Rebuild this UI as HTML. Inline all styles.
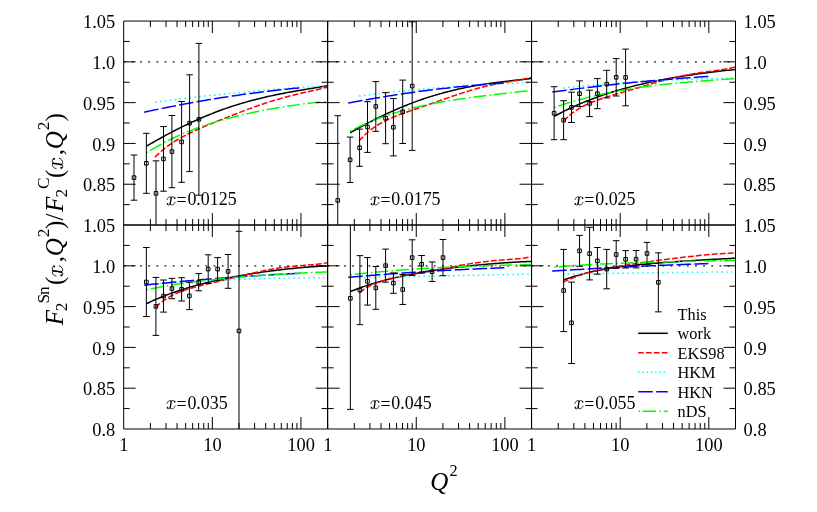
<!DOCTYPE html>
<html><head><meta charset="utf-8"><title>F2 ratio</title>
<style>html,body{margin:0;padding:0;background:#fff}body{width:817px;height:512px;overflow:hidden}svg{display:block;will-change:transform}text{font-family:"Liberation Serif",serif;fill:#000}.i{font-style:italic}</style></head><body>
<svg width="817" height="512" viewBox="0 0 817 512">
<rect width="817" height="512" fill="#fff"/>
<defs>
<g id="mx" fill="none" stroke="#000" stroke-linecap="round"><path d="M0.6,-5.6 C1.0,-7.6 2.4,-8.9 4.3,-8.3" stroke-width="0.75"/><path d="M4.8,-8.2 C4.6,-5.5 4.1,-3 3.7,-1.0" stroke-width="1.3"/><path d="M3.6,-1.0 C3.0,0.1 1.8,0.2 1.1,-0.7" stroke-width="0.75"/><circle cx="1.15" cy="-1.35" r="0.85" fill="#000" stroke="none"/><path d="M4.9,-7.4 C5.5,-8.9 7.4,-9.0 8.3,-7.9" stroke-width="0.75"/><circle cx="8.35" cy="-7.2" r="0.85" fill="#000" stroke="none"/><path d="M3.9,-1.6 C4.2,0.4 7.3,0.6 8.8,-3.0" stroke-width="0.75"/></g>
<clipPath id="c00"><rect x="123.70" y="21.05" width="203.93" height="203.97"/></clipPath>
<clipPath id="c01"><rect x="123.70" y="225.02" width="203.93" height="203.97"/></clipPath>
<clipPath id="c10"><rect x="327.63" y="21.05" width="203.93" height="203.97"/></clipPath>
<clipPath id="c11"><rect x="327.63" y="225.02" width="203.93" height="203.97"/></clipPath>
<clipPath id="c20"><rect x="531.56" y="21.05" width="203.93" height="203.97"/></clipPath>
<clipPath id="c21"><rect x="531.56" y="225.02" width="203.93" height="203.97"/></clipPath>
</defs>
<g clip-path="url(#c00)">
<path d="M123.70 61.84H327.63" stroke="#5a5a5a" stroke-width="1.7" stroke-dasharray="1.9 6.27" fill="none"/>
<path d="M146.35 146.20 L148.36 145.03 L150.37 143.88 L152.38 142.73 L154.38 141.59 L156.39 140.46 L158.40 139.34 L160.41 138.22 L162.42 137.12 L164.43 136.03 L166.43 134.94 L168.44 133.87 L170.45 132.81 L172.46 131.76 L174.47 130.72 L176.47 129.70 L178.48 128.68 L180.49 127.68 L182.50 126.68 L184.51 125.70 L186.52 124.74 L188.53 123.78 L190.53 122.84 L192.54 121.91 L194.55 121.00 L196.56 120.09 L198.57 119.20 L200.57 118.33 L202.58 117.46 L204.59 116.61 L206.60 115.78 L208.61 114.95 L210.62 114.14 L212.62 113.35 L214.63 112.57 L216.64 111.80 L218.65 111.04 L220.66 110.30 L222.67 109.57 L224.68 108.86 L226.68 108.15 L228.69 107.47 L230.70 106.79 L232.71 106.13 L234.72 105.48 L236.73 104.85 L238.73 104.22 L240.74 103.61 L242.75 103.01 L244.76 102.43 L246.77 101.86 L248.78 101.30 L250.78 100.75 L252.79 100.21 L254.80 99.68 L256.81 99.17 L258.82 98.67 L260.82 98.17 L262.83 97.69 L264.84 97.22 L266.85 96.76 L268.86 96.31 L270.87 95.86 L272.88 95.43 L274.88 95.01 L276.89 94.59 L278.90 94.18 L280.91 93.78 L282.92 93.39 L284.93 93.01 L286.93 92.63 L288.94 92.26 L290.95 91.89 L292.96 91.53 L294.97 91.18 L296.98 90.83 L298.98 90.48 L300.99 90.14 L303.00 89.80 L305.01 89.46 L307.02 89.13 L309.03 88.80 L311.03 88.47 L313.04 88.14 L315.05 87.81 L317.06 87.48 L319.07 87.15 L321.08 86.82 L323.08 86.48 L325.09 86.15 L327.10 85.81" stroke="#000" stroke-width="1.5" fill="none"/>
<path d="M155.00 157.11 L157.00 155.14 L159.00 153.28 L161.00 151.50 L163.00 149.82 L165.01 148.21 L167.01 146.68 L169.01 145.23 L171.01 143.84 L173.01 142.51 L175.01 141.23 L177.01 140.01 L179.01 138.83 L181.02 137.69 L183.02 136.60 L185.02 135.54 L187.02 134.51 L189.02 133.51 L191.02 132.54 L193.02 131.59 L195.02 130.66 L197.02 129.75 L199.03 128.86 L201.03 127.98 L203.03 127.11 L205.03 126.26 L207.03 125.42 L209.03 124.58 L211.03 123.76 L213.03 122.94 L215.03 122.12 L217.04 121.31 L219.04 120.51 L221.04 119.71 L223.04 118.91 L225.04 118.12 L227.04 117.33 L229.04 116.55 L231.04 115.76 L233.05 114.99 L235.05 114.21 L237.05 113.44 L239.05 112.67 L241.05 111.91 L243.05 111.15 L245.05 110.40 L247.05 109.65 L249.05 108.91 L251.06 108.18 L253.06 107.45 L255.06 106.74 L257.06 106.03 L259.06 105.33 L261.06 104.64 L263.06 103.96 L265.06 103.28 L267.07 102.63 L269.07 101.98 L271.07 101.34 L273.07 100.72 L275.07 100.11 L277.07 99.51 L279.07 98.92 L281.07 98.35 L283.07 97.78 L285.08 97.24 L287.08 96.70 L289.08 96.18 L291.08 95.66 L293.08 95.16 L295.08 94.67 L297.08 94.19 L299.08 93.72 L301.08 93.26 L303.09 92.80 L305.09 92.35 L307.09 91.90 L309.09 91.45 L311.09 91.01 L313.09 90.56 L315.09 90.11 L317.09 89.65 L319.10 89.19 L321.10 88.71 L323.10 88.22 L325.10 87.71 L327.10 87.18" stroke="#f00" stroke-width="1.5" fill="none" stroke-dasharray="5.9 2.1"/>
<path d="M155.00 102.25 L157.00 101.98 L159.00 101.71 L161.00 101.45 L163.00 101.18 L165.01 100.92 L167.01 100.66 L169.01 100.40 L171.01 100.15 L173.01 99.89 L175.01 99.64 L177.01 99.39 L179.01 99.14 L181.02 98.90 L183.02 98.65 L185.02 98.41 L187.02 98.16 L189.02 97.92 L191.02 97.69 L193.02 97.45 L195.02 97.22 L197.02 96.98 L199.03 96.75 L201.03 96.52 L203.03 96.30 L205.03 96.07 L207.03 95.85 L209.03 95.62 L211.03 95.40 L213.03 95.18 L215.03 94.97 L217.04 94.75 L219.04 94.54 L221.04 94.33 L223.04 94.12 L225.04 93.91 L227.04 93.70 L229.04 93.50 L231.04 93.30 L233.05 93.10 L235.05 92.90 L237.05 92.70 L239.05 92.50 L241.05 92.31 L243.05 92.12 L245.05 91.93 L247.05 91.74 L249.05 91.55 L251.06 91.37 L253.06 91.18 L255.06 91.00 L257.06 90.82 L259.06 90.65 L261.06 90.47 L263.06 90.29 L265.06 90.12 L267.07 89.95 L269.07 89.78 L271.07 89.62 L273.07 89.45 L275.07 89.29 L277.07 89.12 L279.07 88.96 L281.07 88.81 L283.07 88.65 L285.08 88.50 L287.08 88.34 L289.08 88.19 L291.08 88.04 L293.08 87.89 L295.08 87.75 L297.08 87.60 L299.08 87.46 L301.08 87.32 L303.09 87.18 L305.09 87.05 L307.09 86.91 L309.09 86.78 L311.09 86.65 L313.09 86.52 L315.09 86.39 L317.09 86.26 L319.10 86.14 L321.10 86.01 L323.10 85.89 L325.10 85.77 L327.10 85.66" stroke="#0ff" stroke-width="1.5" fill="none" stroke-dasharray="1.6 3.35"/>
<path d="M144.20 112.18 L146.20 111.74 L148.21 111.31 L150.21 110.88 L152.21 110.45 L154.21 110.03 L156.22 109.61 L158.22 109.19 L160.22 108.78 L162.22 108.37 L164.23 107.96 L166.23 107.56 L168.23 107.16 L170.23 106.76 L172.24 106.37 L174.24 105.98 L176.24 105.59 L178.24 105.20 L180.25 104.82 L182.25 104.44 L184.25 104.07 L186.25 103.70 L188.26 103.33 L190.26 102.96 L192.26 102.60 L194.26 102.24 L196.27 101.88 L198.27 101.53 L200.27 101.18 L202.27 100.83 L204.28 100.49 L206.28 100.15 L208.28 99.81 L210.28 99.48 L212.29 99.15 L214.29 98.82 L216.29 98.50 L218.29 98.18 L220.30 97.86 L222.30 97.54 L224.30 97.23 L226.31 96.92 L228.31 96.62 L230.31 96.32 L232.31 96.02 L234.32 95.72 L236.32 95.43 L238.32 95.14 L240.32 94.85 L242.33 94.57 L244.33 94.29 L246.33 94.01 L248.33 93.74 L250.34 93.47 L252.34 93.20 L254.34 92.94 L256.34 92.68 L258.35 92.42 L260.35 92.16 L262.35 91.91 L264.35 91.67 L266.36 91.42 L268.36 91.18 L270.36 90.94 L272.36 90.70 L274.37 90.47 L276.37 90.24 L278.37 90.02 L280.37 89.79 L282.38 89.57 L284.38 89.36 L286.38 89.14 L288.38 88.93 L290.39 88.73 L292.39 88.52 L294.39 88.32 L296.39 88.13 L298.40 87.93 L300.40 87.74" stroke="#00f" stroke-width="1.5" fill="none" stroke-dasharray="14.5 3.3"/>
<path d="M146.35 152.91 L148.36 151.65 L150.37 150.42 L152.38 149.21 L154.38 148.03 L156.39 146.88 L158.40 145.75 L160.41 144.64 L162.42 143.56 L164.43 142.50 L166.43 141.46 L168.44 140.45 L170.45 139.46 L172.46 138.48 L174.47 137.53 L176.47 136.60 L178.48 135.69 L180.49 134.80 L182.50 133.93 L184.51 133.08 L186.52 132.24 L188.53 131.42 L190.53 130.62 L192.54 129.84 L194.55 129.07 L196.56 128.32 L198.57 127.59 L200.57 126.87 L202.58 126.16 L204.59 125.47 L206.60 124.80 L208.61 124.14 L210.62 123.49 L212.62 122.85 L214.63 122.23 L216.64 121.62 L218.65 121.02 L220.66 120.44 L222.67 119.87 L224.68 119.30 L226.68 118.75 L228.69 118.21 L230.70 117.68 L232.71 117.16 L234.72 116.66 L236.73 116.16 L238.73 115.67 L240.74 115.19 L242.75 114.72 L244.76 114.25 L246.77 113.80 L248.78 113.36 L250.78 112.92 L252.79 112.49 L254.80 112.07 L256.81 111.66 L258.82 111.26 L260.82 110.86 L262.83 110.47 L264.84 110.09 L266.85 109.71 L268.86 109.34 L270.87 108.98 L272.88 108.63 L274.88 108.28 L276.89 107.94 L278.90 107.60 L280.91 107.28 L282.92 106.95 L284.93 106.64 L286.93 106.33 L288.94 106.02 L290.95 105.73 L292.96 105.43 L294.97 105.15 L296.98 104.87 L298.98 104.59 L300.99 104.33 L303.00 104.06 L305.01 103.81 L307.02 103.56 L309.03 103.31 L311.03 103.07 L313.04 102.84 L315.05 102.62 L317.06 102.40 L319.07 102.18 L321.08 101.97 L323.08 101.77 L325.09 101.58 L327.10 101.39" stroke="#0f0" stroke-width="1.5" fill="none" stroke-dasharray="1.6 2.8 13.0 3.3"/>
<path d="M134.00 155.00V200.20M130.70 155.00h6.6M130.70 200.20h6.6M146.35 133.30V193.30M143.05 133.30h6.6M143.05 193.30h6.6M156.00 160.85V225.85M152.70 160.85h6.6M152.70 225.85h6.6M163.50 126.60V191.20M160.20 126.60h6.6M160.20 191.20h6.6M171.90 115.50V187.70M168.60 115.50h6.6M168.60 187.70h6.6M181.60 101.50V182.30M178.30 101.50h6.6M178.30 182.30h6.6M189.60 74.80V171.60M186.30 74.80h6.6M186.30 171.60h6.6M198.90 43.40V195.20M195.60 43.40h6.6M195.60 195.20h6.6" stroke="#000" stroke-width="1.0" fill="none"/>
<path d="M132.20 175.80h3.6v3.6h-3.6zM144.55 161.50h3.6v3.6h-3.6zM154.20 191.55h3.6v3.6h-3.6zM161.70 157.10h3.6v3.6h-3.6zM170.10 149.80h3.6v3.6h-3.6zM179.80 140.10h3.6v3.6h-3.6zM187.80 121.40h3.6v3.6h-3.6zM197.10 117.50h3.6v3.6h-3.6z" stroke="#000" stroke-width="1" fill="none"/>
</g>
<g clip-path="url(#c10)">
<path d="M327.63 61.84H531.56" stroke="#5a5a5a" stroke-width="1.7" stroke-dasharray="1.9 6.27" fill="none"/>
<path d="M350.10 132.75 L352.11 131.62 L354.12 130.49 L356.13 129.37 L358.14 128.26 L360.16 127.17 L362.17 126.08 L364.18 125.00 L366.19 123.93 L368.20 122.88 L370.21 121.84 L372.22 120.80 L374.23 119.78 L376.24 118.78 L378.26 117.78 L380.27 116.80 L382.28 115.83 L384.29 114.87 L386.30 113.92 L388.31 112.99 L390.32 112.07 L392.33 111.17 L394.34 110.27 L396.36 109.40 L398.37 108.53 L400.38 107.68 L402.39 106.84 L404.40 106.02 L406.41 105.21 L408.42 104.41 L410.43 103.63 L412.44 102.86 L414.46 102.11 L416.47 101.37 L418.48 100.65 L420.49 99.94 L422.50 99.24 L424.51 98.56 L426.52 97.89 L428.53 97.24 L430.54 96.60 L432.56 95.97 L434.57 95.36 L436.58 94.76 L438.59 94.18 L440.60 93.61 L442.61 93.05 L444.62 92.50 L446.63 91.97 L448.64 91.46 L450.66 90.95 L452.67 90.46 L454.68 89.98 L456.69 89.51 L458.70 89.06 L460.71 88.62 L462.72 88.19 L464.73 87.77 L466.74 87.36 L468.76 86.97 L470.77 86.58 L472.78 86.21 L474.79 85.85 L476.80 85.49 L478.81 85.15 L480.82 84.82 L482.83 84.49 L484.84 84.18 L486.86 83.87 L488.87 83.58 L490.88 83.29 L492.89 83.01 L494.90 82.73 L496.91 82.47 L498.92 82.20 L500.93 81.95 L502.94 81.70 L504.96 81.46 L506.97 81.22 L508.98 80.99 L510.99 80.76 L513.00 80.54 L515.01 80.31 L517.02 80.10 L519.03 79.88 L521.04 79.67 L523.06 79.45 L525.07 79.24 L527.08 79.03 L529.09 78.82 L531.10 78.61" stroke="#000" stroke-width="1.5" fill="none"/>
<path d="M359.00 141.12 L361.00 138.86 L363.00 136.76 L365.00 134.80 L367.00 132.97 L369.01 131.27 L371.01 129.68 L373.01 128.19 L375.01 126.79 L377.01 125.48 L379.01 124.25 L381.01 123.10 L383.01 122.00 L385.02 120.97 L387.02 119.99 L389.02 119.05 L391.02 118.16 L393.02 117.30 L395.02 116.48 L397.02 115.68 L399.02 114.91 L401.02 114.15 L403.03 113.41 L405.03 112.69 L407.03 111.98 L409.03 111.28 L411.03 110.58 L413.03 109.89 L415.03 109.20 L417.03 108.52 L419.03 107.83 L421.04 107.15 L423.04 106.46 L425.04 105.77 L427.04 105.08 L429.04 104.39 L431.04 103.70 L433.04 103.00 L435.04 102.30 L437.05 101.61 L439.05 100.91 L441.05 100.21 L443.05 99.51 L445.05 98.81 L447.05 98.11 L449.05 97.42 L451.05 96.72 L453.05 96.04 L455.06 95.36 L457.06 94.69 L459.06 94.02 L461.06 93.36 L463.06 92.72 L465.06 92.08 L467.06 91.46 L469.06 90.85 L471.07 90.25 L473.07 89.66 L475.07 89.10 L477.07 88.54 L479.07 88.01 L481.07 87.49 L483.07 86.98 L485.07 86.50 L487.07 86.03 L489.08 85.57 L491.08 85.14 L493.08 84.72 L495.08 84.31 L497.08 83.92 L499.08 83.54 L501.08 83.17 L503.08 82.82 L505.08 82.47 L507.09 82.13 L509.09 81.79 L511.09 81.46 L513.09 81.12 L515.09 80.78 L517.09 80.43 L519.09 80.06 L521.09 79.69 L523.10 79.29 L525.10 78.86 L527.10 78.41 L529.10 77.92 L531.10 77.38" stroke="#f00" stroke-width="1.5" fill="none" stroke-dasharray="5.9 2.1"/>
<path d="M359.00 96.09 L361.00 95.83 L363.00 95.58 L365.00 95.32 L367.00 95.07 L369.01 94.83 L371.01 94.58 L373.01 94.34 L375.01 94.10 L377.01 93.86 L379.01 93.62 L381.01 93.39 L383.01 93.16 L385.02 92.93 L387.02 92.70 L389.02 92.48 L391.02 92.26 L393.02 92.04 L395.02 91.82 L397.02 91.61 L399.02 91.40 L401.02 91.19 L403.03 90.98 L405.03 90.78 L407.03 90.58 L409.03 90.38 L411.03 90.18 L413.03 89.99 L415.03 89.79 L417.03 89.60 L419.03 89.42 L421.04 89.23 L423.04 89.05 L425.04 88.87 L427.04 88.69 L429.04 88.52 L431.04 88.34 L433.04 88.17 L435.04 88.01 L437.05 87.84 L439.05 87.68 L441.05 87.52 L443.05 87.36 L445.05 87.20 L447.05 87.05 L449.05 86.90 L451.05 86.75 L453.05 86.61 L455.06 86.46 L457.06 86.32 L459.06 86.18 L461.06 86.05 L463.06 85.91 L465.06 85.78 L467.06 85.66 L469.06 85.53 L471.07 85.40 L473.07 85.28 L475.07 85.16 L477.07 85.05 L479.07 84.93 L481.07 84.82 L483.07 84.71 L485.07 84.61 L487.07 84.50 L489.08 84.40 L491.08 84.30 L493.08 84.20 L495.08 84.11 L497.08 84.02 L499.08 83.93 L501.08 83.84 L503.08 83.75 L505.08 83.67 L507.09 83.59 L509.09 83.51 L511.09 83.44 L513.09 83.37 L515.09 83.30 L517.09 83.23 L519.09 83.16 L521.09 83.10 L523.10 83.04 L525.10 82.98 L527.10 82.93 L529.10 82.87 L531.10 82.82" stroke="#0ff" stroke-width="1.5" fill="none" stroke-dasharray="1.6 3.35"/>
<path d="M348.20 103.08 L350.20 102.70 L352.21 102.32 L354.21 101.94 L356.21 101.57 L358.21 101.20 L360.22 100.84 L362.22 100.47 L364.22 100.11 L366.22 99.76 L368.23 99.41 L370.23 99.06 L372.23 98.71 L374.23 98.37 L376.24 98.03 L378.24 97.69 L380.24 97.36 L382.24 97.03 L384.25 96.70 L386.25 96.38 L388.25 96.06 L390.25 95.74 L392.26 95.43 L394.26 95.11 L396.26 94.81 L398.26 94.50 L400.27 94.20 L402.27 93.90 L404.27 93.61 L406.27 93.32 L408.28 93.03 L410.28 92.74 L412.28 92.46 L414.28 92.18 L416.29 91.91 L418.29 91.63 L420.29 91.36 L422.29 91.10 L424.30 90.84 L426.30 90.58 L428.30 90.32 L430.31 90.07 L432.31 89.82 L434.31 89.57 L436.31 89.33 L438.32 89.09 L440.32 88.85 L442.32 88.62 L444.32 88.38 L446.33 88.16 L448.33 87.93 L450.33 87.71 L452.33 87.49 L454.34 87.28 L456.34 87.07 L458.34 86.86 L460.34 86.65 L462.35 86.45 L464.35 86.25 L466.35 86.06 L468.35 85.87 L470.36 85.68 L472.36 85.49 L474.36 85.31 L476.36 85.13 L478.37 84.95 L480.37 84.78 L482.37 84.61 L484.37 84.44 L486.38 84.28 L488.38 84.12 L490.38 83.96 L492.38 83.81 L494.39 83.66 L496.39 83.51 L498.39 83.37 L500.39 83.23 L502.40 83.09 L504.40 82.96" stroke="#00f" stroke-width="1.5" fill="none" stroke-dasharray="14.5 3.3"/>
<path d="M350.10 131.20 L352.11 130.15 L354.12 129.12 L356.13 128.12 L358.14 127.14 L360.16 126.18 L362.17 125.25 L364.18 124.34 L366.19 123.45 L368.20 122.58 L370.21 121.74 L372.22 120.91 L374.23 120.11 L376.24 119.32 L378.26 118.56 L380.27 117.81 L382.28 117.08 L384.29 116.37 L386.30 115.68 L388.31 115.00 L390.32 114.35 L392.33 113.70 L394.34 113.08 L396.36 112.47 L398.37 111.87 L400.38 111.29 L402.39 110.72 L404.40 110.17 L406.41 109.63 L408.42 109.10 L410.43 108.59 L412.44 108.09 L414.46 107.60 L416.47 107.13 L418.48 106.66 L420.49 106.21 L422.50 105.76 L424.51 105.33 L426.52 104.91 L428.53 104.49 L430.54 104.09 L432.56 103.70 L434.57 103.31 L436.58 102.93 L438.59 102.57 L440.60 102.21 L442.61 101.85 L444.62 101.51 L446.63 101.17 L448.64 100.84 L450.66 100.51 L452.67 100.19 L454.68 99.88 L456.69 99.57 L458.70 99.27 L460.71 98.98 L462.72 98.69 L464.73 98.40 L466.74 98.12 L468.76 97.84 L470.77 97.57 L472.78 97.30 L474.79 97.04 L476.80 96.77 L478.81 96.52 L480.82 96.26 L482.83 96.01 L484.84 95.76 L486.86 95.51 L488.87 95.27 L490.88 95.03 L492.89 94.79 L494.90 94.55 L496.91 94.31 L498.92 94.08 L500.93 93.84 L502.94 93.61 L504.96 93.38 L506.97 93.15 L508.98 92.92 L510.99 92.70 L513.00 92.47 L515.01 92.24 L517.02 92.02 L519.03 91.79 L521.04 91.57 L523.06 91.34 L525.07 91.12 L527.08 90.89 L529.09 90.67 L531.10 90.45" stroke="#0f0" stroke-width="1.5" fill="none" stroke-dasharray="1.6 2.8 13.0 3.3"/>
<path d="M337.75 115.70V285.10M334.45 115.70h6.6M334.45 285.10h6.6M350.10 137.10V182.50M346.80 137.10h6.6M346.80 182.50h6.6M359.60 129.10V166.30M356.30 129.10h6.6M356.30 166.30h6.6M367.50 101.70V152.40M364.20 101.70h6.6M364.20 152.40h6.6M375.80 81.60V131.30M372.50 81.60h6.6M372.50 131.30h6.6M385.60 92.60V143.70M382.30 92.60h6.6M382.30 143.70h6.6M393.40 98.50V155.90M390.10 98.50h6.6M390.10 155.90h6.6M402.70 80.10V143.50M399.40 80.10h6.6M399.40 143.50h6.6M412.20 21.80V150.40M408.90 21.80h6.6M408.90 150.40h6.6" stroke="#000" stroke-width="1.0" fill="none"/>
<path d="M335.95 198.60h3.6v3.6h-3.6zM348.30 158.00h3.6v3.6h-3.6zM357.80 145.90h3.6v3.6h-3.6zM365.70 125.25h3.6v3.6h-3.6zM374.00 104.65h3.6v3.6h-3.6zM383.80 116.35h3.6v3.6h-3.6zM391.60 125.40h3.6v3.6h-3.6zM400.90 110.00h3.6v3.6h-3.6zM410.40 84.30h3.6v3.6h-3.6z" stroke="#000" stroke-width="1" fill="none"/>
</g>
<g clip-path="url(#c20)">
<path d="M531.56 61.84H735.49" stroke="#5a5a5a" stroke-width="1.7" stroke-dasharray="1.9 6.27" fill="none"/>
<path d="M554.10 116.44 L556.11 115.34 L558.12 114.28 L560.13 113.23 L562.14 112.20 L564.16 111.19 L566.17 110.20 L568.18 109.22 L570.19 108.27 L572.20 107.34 L574.21 106.42 L576.22 105.52 L578.23 104.64 L580.24 103.77 L582.26 102.93 L584.27 102.09 L586.28 101.28 L588.29 100.48 L590.30 99.70 L592.31 98.93 L594.32 98.17 L596.33 97.43 L598.34 96.71 L600.36 96.00 L602.37 95.30 L604.38 94.62 L606.39 93.95 L608.40 93.30 L610.41 92.65 L612.42 92.02 L614.43 91.40 L616.44 90.80 L618.46 90.20 L620.47 89.62 L622.48 89.05 L624.49 88.49 L626.50 87.94 L628.51 87.40 L630.52 86.88 L632.53 86.36 L634.54 85.85 L636.56 85.35 L638.57 84.86 L640.58 84.39 L642.59 83.92 L644.60 83.46 L646.61 83.00 L648.62 82.56 L650.63 82.13 L652.64 81.70 L654.66 81.28 L656.67 80.87 L658.68 80.47 L660.69 80.08 L662.70 79.69 L664.71 79.31 L666.72 78.93 L668.73 78.57 L670.74 78.21 L672.76 77.85 L674.77 77.51 L676.78 77.17 L678.79 76.83 L680.80 76.51 L682.81 76.18 L684.82 75.87 L686.83 75.56 L688.84 75.25 L690.86 74.95 L692.87 74.65 L694.88 74.36 L696.89 74.08 L698.90 73.80 L700.91 73.53 L702.92 73.25 L704.93 72.99 L706.94 72.73 L708.96 72.47 L710.97 72.22 L712.98 71.97 L714.99 71.73 L717.00 71.49 L719.01 71.25 L721.02 71.02 L723.03 70.79 L725.04 70.56 L727.06 70.34 L729.07 70.13 L731.08 69.91 L733.09 69.70 L735.10 69.49" stroke="#000" stroke-width="1.5" fill="none"/>
<path d="M563.60 121.02 L565.62 118.98 L567.64 117.09 L569.65 115.33 L571.67 113.69 L573.69 112.16 L575.71 110.75 L577.72 109.42 L579.74 108.19 L581.76 107.04 L583.78 105.96 L585.79 104.95 L587.81 103.99 L589.83 103.10 L591.85 102.24 L593.86 101.44 L595.88 100.67 L597.90 99.93 L599.92 99.22 L601.94 98.54 L603.95 97.88 L605.97 97.23 L607.99 96.61 L610.01 95.99 L612.02 95.38 L614.04 94.79 L616.06 94.19 L618.08 93.61 L620.09 93.02 L622.11 92.44 L624.13 91.85 L626.15 91.27 L628.16 90.69 L630.18 90.10 L632.20 89.52 L634.22 88.93 L636.24 88.34 L638.25 87.75 L640.27 87.16 L642.29 86.57 L644.31 85.98 L646.32 85.38 L648.34 84.79 L650.36 84.21 L652.38 83.62 L654.39 83.04 L656.41 82.46 L658.43 81.89 L660.45 81.33 L662.46 80.77 L664.48 80.23 L666.50 79.69 L668.52 79.16 L670.54 78.64 L672.55 78.14 L674.57 77.65 L676.59 77.17 L678.61 76.70 L680.62 76.26 L682.64 75.82 L684.66 75.40 L686.68 75.00 L688.69 74.61 L690.71 74.24 L692.73 73.88 L694.75 73.54 L696.76 73.21 L698.78 72.89 L700.80 72.59 L702.82 72.29 L704.84 72.01 L706.85 71.73 L708.87 71.46 L710.89 71.20 L712.91 70.93 L714.92 70.66 L716.94 70.39 L718.96 70.11 L720.98 69.81 L722.99 69.50 L725.01 69.17 L727.03 68.82 L729.05 68.43 L731.06 68.01 L733.08 67.55 L735.10 67.04" stroke="#f00" stroke-width="1.5" fill="none" stroke-dasharray="5.9 2.1"/>
<path d="M563.00 87.92 L565.00 87.73 L567.00 87.54 L569.00 87.35 L571.00 87.17 L573.01 86.98 L575.01 86.80 L577.01 86.62 L579.01 86.44 L581.01 86.27 L583.01 86.09 L585.01 85.92 L587.01 85.75 L589.02 85.58 L591.02 85.41 L593.02 85.24 L595.02 85.08 L597.02 84.92 L599.02 84.75 L601.02 84.60 L603.02 84.44 L605.02 84.28 L607.03 84.13 L609.03 83.98 L611.03 83.83 L613.03 83.68 L615.03 83.53 L617.03 83.39 L619.03 83.24 L621.03 83.10 L623.03 82.96 L625.04 82.83 L627.04 82.69 L629.04 82.56 L631.04 82.42 L633.04 82.29 L635.04 82.16 L637.04 82.04 L639.04 81.91 L641.05 81.79 L643.05 81.67 L645.05 81.55 L647.05 81.43 L649.05 81.31 L651.05 81.20 L653.05 81.08 L655.05 80.97 L657.05 80.86 L659.06 80.76 L661.06 80.65 L663.06 80.55 L665.06 80.44 L667.06 80.34 L669.06 80.24 L671.06 80.15 L673.06 80.05 L675.07 79.96 L677.07 79.87 L679.07 79.78 L681.07 79.69 L683.07 79.60 L685.07 79.52 L687.07 79.43 L689.07 79.35 L691.07 79.27 L693.08 79.20 L695.08 79.12 L697.08 79.05 L699.08 78.98 L701.08 78.91 L703.08 78.84 L705.08 78.77 L707.08 78.70 L709.08 78.64 L711.09 78.58 L713.09 78.52 L715.09 78.46 L717.09 78.41 L719.09 78.35 L721.09 78.30 L723.09 78.25 L725.09 78.20 L727.10 78.15 L729.10 78.11 L731.10 78.06 L733.10 78.02 L735.10 77.98" stroke="#0ff" stroke-width="1.5" fill="none" stroke-dasharray="1.6 3.35"/>
<path d="M552.20 92.07 L554.20 91.79 L556.21 91.52 L558.21 91.25 L560.21 90.97 L562.21 90.71 L564.22 90.44 L566.22 90.17 L568.22 89.91 L570.22 89.65 L572.23 89.39 L574.23 89.13 L576.23 88.88 L578.23 88.63 L580.24 88.37 L582.24 88.13 L584.24 87.88 L586.24 87.63 L588.25 87.39 L590.25 87.15 L592.25 86.91 L594.25 86.67 L596.26 86.44 L598.26 86.21 L600.26 85.97 L602.26 85.75 L604.27 85.52 L606.27 85.29 L608.27 85.07 L610.27 84.85 L612.28 84.63 L614.28 84.41 L616.28 84.20 L618.28 83.99 L620.29 83.78 L622.29 83.57 L624.29 83.36 L626.29 83.15 L628.30 82.95 L630.30 82.75 L632.30 82.55 L634.31 82.36 L636.31 82.16 L638.31 81.97 L640.31 81.78 L642.32 81.59 L644.32 81.40 L646.32 81.22 L648.32 81.03 L650.33 80.85 L652.33 80.67 L654.33 80.50 L656.33 80.32 L658.34 80.15 L660.34 79.98 L662.34 79.81 L664.34 79.64 L666.35 79.48 L668.35 79.31 L670.35 79.15 L672.35 78.99 L674.36 78.84 L676.36 78.68 L678.36 78.53 L680.36 78.38 L682.37 78.23 L684.37 78.08 L686.37 77.94 L688.37 77.80 L690.38 77.66 L692.38 77.52 L694.38 77.38 L696.38 77.24 L698.39 77.11 L700.39 76.98 L702.39 76.85 L704.39 76.73 L706.40 76.60 L708.40 76.48" stroke="#00f" stroke-width="1.5" fill="none" stroke-dasharray="14.5 3.3"/>
<path d="M554.10 107.54 L556.11 106.85 L558.12 106.18 L560.13 105.51 L562.14 104.86 L564.16 104.22 L566.17 103.59 L568.18 102.97 L570.19 102.36 L572.20 101.77 L574.21 101.18 L576.22 100.61 L578.23 100.04 L580.24 99.49 L582.26 98.95 L584.27 98.42 L586.28 97.89 L588.29 97.38 L590.30 96.88 L592.31 96.39 L594.32 95.91 L596.33 95.44 L598.34 94.98 L600.36 94.53 L602.37 94.08 L604.38 93.65 L606.39 93.23 L608.40 92.81 L610.41 92.41 L612.42 92.01 L614.43 91.62 L616.44 91.24 L618.46 90.87 L620.47 90.51 L622.48 90.15 L624.49 89.81 L626.50 89.47 L628.51 89.14 L630.52 88.81 L632.53 88.50 L634.54 88.19 L636.56 87.89 L638.57 87.59 L640.58 87.31 L642.59 87.03 L644.60 86.75 L646.61 86.48 L648.62 86.22 L650.63 85.97 L652.64 85.72 L654.66 85.48 L656.67 85.24 L658.68 85.01 L660.69 84.78 L662.70 84.56 L664.71 84.34 L666.72 84.13 L668.73 83.93 L670.74 83.73 L672.76 83.53 L674.77 83.33 L676.78 83.15 L678.79 82.96 L680.80 82.78 L682.81 82.60 L684.82 82.42 L686.83 82.25 L688.84 82.08 L690.86 81.92 L692.87 81.75 L694.88 81.59 L696.89 81.44 L698.90 81.28 L700.91 81.12 L702.92 80.97 L704.93 80.82 L706.94 80.67 L708.96 80.52 L710.97 80.37 L712.98 80.22 L714.99 80.07 L717.00 79.93 L719.01 79.78 L721.02 79.63 L723.03 79.48 L725.04 79.34 L727.06 79.19 L729.07 79.04 L731.08 78.89 L733.09 78.73 L735.10 78.58" stroke="#0f0" stroke-width="1.5" fill="none" stroke-dasharray="1.6 2.8 13.0 3.3"/>
<path d="M554.10 86.70V139.70M550.80 86.70h6.6M550.80 139.70h6.6M563.60 100.70V139.70M560.30 100.70h6.6M560.30 139.70h6.6M571.50 92.20V122.50M568.20 92.20h6.6M568.20 122.50h6.6M579.55 80.90V106.50M576.25 80.90h6.6M576.25 106.50h6.6M589.60 90.20V116.60M586.30 90.20h6.6M586.30 116.60h6.6M597.40 78.60V108.70M594.10 78.60h6.6M594.10 108.70h6.6M606.70 70.30V97.90M603.40 70.30h6.6M603.40 97.90h6.6M616.20 58.60V96.00M612.90 58.60h6.6M612.90 96.00h6.6M625.60 49.10V105.80M622.30 49.10h6.6M622.30 105.80h6.6" stroke="#000" stroke-width="1.0" fill="none"/>
<path d="M552.30 111.40h3.6v3.6h-3.6zM561.80 118.40h3.6v3.6h-3.6zM569.70 105.55h3.6v3.6h-3.6zM577.75 91.90h3.6v3.6h-3.6zM587.80 101.60h3.6v3.6h-3.6zM595.60 91.85h3.6v3.6h-3.6zM604.90 82.30h3.6v3.6h-3.6zM614.40 75.50h3.6v3.6h-3.6zM623.80 75.65h3.6v3.6h-3.6z" stroke="#000" stroke-width="1" fill="none"/>
</g>
<g clip-path="url(#c01)">
<path d="M123.70 265.81H327.63" stroke="#5a5a5a" stroke-width="1.7" stroke-dasharray="1.9 6.27" fill="none"/>
<path d="M146.35 303.73 L148.36 302.78 L150.37 301.85 L152.38 300.94 L154.38 300.05 L156.39 299.18 L158.40 298.33 L160.41 297.50 L162.42 296.69 L164.43 295.90 L166.43 295.12 L168.44 294.37 L170.45 293.62 L172.46 292.90 L174.47 292.19 L176.47 291.50 L178.48 290.82 L180.49 290.15 L182.50 289.51 L184.51 288.87 L186.52 288.25 L188.53 287.64 L190.53 287.05 L192.54 286.47 L194.55 285.90 L196.56 285.34 L198.57 284.79 L200.57 284.26 L202.58 283.74 L204.59 283.22 L206.60 282.72 L208.61 282.23 L210.62 281.75 L212.62 281.28 L214.63 280.82 L216.64 280.36 L218.65 279.92 L220.66 279.49 L222.67 279.06 L224.68 278.64 L226.68 278.23 L228.69 277.83 L230.70 277.44 L232.71 277.05 L234.72 276.68 L236.73 276.30 L238.73 275.94 L240.74 275.58 L242.75 275.23 L244.76 274.89 L246.77 274.55 L248.78 274.22 L250.78 273.90 L252.79 273.58 L254.80 273.27 L256.81 272.97 L258.82 272.67 L260.82 272.37 L262.83 272.08 L264.84 271.80 L266.85 271.53 L268.86 271.25 L270.87 270.99 L272.88 270.73 L274.88 270.48 L276.89 270.23 L278.90 269.98 L280.91 269.75 L282.92 269.51 L284.93 269.29 L286.93 269.07 L288.94 268.85 L290.95 268.64 L292.96 268.44 L294.97 268.24 L296.98 268.05 L298.98 267.86 L300.99 267.68 L303.00 267.50 L305.01 267.34 L307.02 267.17 L309.03 267.02 L311.03 266.87 L313.04 266.72 L315.05 266.59 L317.06 266.46 L319.07 266.33 L321.08 266.22 L323.08 266.11 L325.09 266.01 L327.10 265.91" stroke="#000" stroke-width="1.5" fill="none"/>
<path d="M155.60 307.28 L157.62 305.38 L159.64 303.62 L161.65 302.01 L163.67 300.51 L165.69 299.13 L167.71 297.85 L169.72 296.67 L171.74 295.57 L173.76 294.56 L175.78 293.62 L177.79 292.74 L179.81 291.92 L181.83 291.16 L183.85 290.44 L185.86 289.76 L187.88 289.12 L189.90 288.51 L191.92 287.93 L193.94 287.37 L195.95 286.83 L197.97 286.31 L199.99 285.80 L202.01 285.31 L204.02 284.82 L206.04 284.34 L208.06 283.86 L210.08 283.38 L212.09 282.91 L214.11 282.44 L216.13 281.96 L218.15 281.49 L220.16 281.01 L222.18 280.53 L224.20 280.05 L226.22 279.56 L228.24 279.08 L230.25 278.59 L232.27 278.09 L234.29 277.60 L236.31 277.11 L238.32 276.61 L240.34 276.12 L242.36 275.63 L244.38 275.14 L246.39 274.65 L248.41 274.17 L250.43 273.69 L252.45 273.22 L254.46 272.76 L256.48 272.30 L258.50 271.86 L260.52 271.42 L262.54 271.00 L264.55 270.59 L266.57 270.19 L268.59 269.80 L270.61 269.43 L272.62 269.08 L274.64 268.74 L276.66 268.41 L278.68 268.10 L280.69 267.81 L282.71 267.54 L284.73 267.27 L286.75 267.03 L288.76 266.80 L290.78 266.58 L292.80 266.38 L294.82 266.19 L296.84 266.00 L298.85 265.83 L300.87 265.66 L302.89 265.50 L304.91 265.34 L306.92 265.18 L308.94 265.01 L310.96 264.84 L312.98 264.65 L314.99 264.45 L317.01 264.23 L319.03 263.99 L321.05 263.72 L323.06 263.41 L325.08 263.06 L327.10 262.66" stroke="#f00" stroke-width="1.5" fill="none" stroke-dasharray="5.9 2.1"/>
<path d="M155.00 284.01 L157.02 283.87 L159.04 283.73 L161.06 283.59 L163.08 283.46 L165.10 283.32 L167.11 283.19 L169.13 283.05 L171.15 282.92 L173.17 282.79 L175.19 282.67 L177.21 282.54 L179.23 282.42 L181.25 282.29 L183.27 282.17 L185.29 282.05 L187.30 281.94 L189.32 281.82 L191.34 281.71 L193.36 281.59 L195.38 281.48 L197.40 281.37 L199.42 281.26 L201.44 281.16 L203.46 281.05 L205.48 280.95 L207.50 280.85 L209.51 280.75 L211.53 280.65 L213.55 280.55 L215.57 280.45 L217.59 280.36 L219.61 280.27 L221.63 280.18 L223.65 280.09 L225.67 280.00 L227.69 279.92 L229.70 279.83 L231.72 279.75 L233.74 279.67 L235.76 279.59 L237.78 279.51 L239.80 279.43 L241.82 279.36 L243.84 279.29 L245.86 279.21 L247.88 279.14 L249.90 279.08 L251.91 279.01 L253.93 278.94 L255.95 278.88 L257.97 278.82 L259.99 278.76 L262.01 278.70 L264.03 278.64 L266.05 278.59 L268.07 278.53 L270.09 278.48 L272.10 278.43 L274.12 278.38 L276.14 278.33 L278.16 278.29 L280.18 278.24 L282.20 278.20 L284.22 278.16 L286.24 278.12 L288.26 278.08 L290.28 278.05 L292.30 278.01 L294.31 277.98 L296.33 277.95 L298.35 277.92 L300.37 277.89 L302.39 277.86 L304.41 277.84 L306.43 277.81 L308.45 277.79 L310.47 277.77 L312.49 277.75 L314.50 277.73 L316.52 277.72 L318.54 277.71 L320.56 277.69 L322.58 277.68 L324.60 277.67" stroke="#0ff" stroke-width="1.5" fill="none" stroke-dasharray="1.6 3.35"/>
<path d="M144.20 285.13 L146.20 284.92 L148.21 284.71 L150.21 284.50 L152.21 284.29 L154.21 284.08 L156.22 283.88 L158.22 283.68 L160.22 283.48 L162.22 283.28 L164.23 283.08 L166.23 282.88 L168.23 282.69 L170.23 282.50 L172.24 282.31 L174.24 282.12 L176.24 281.93 L178.24 281.74 L180.25 281.56 L182.25 281.37 L184.25 281.19 L186.25 281.01 L188.26 280.83 L190.26 280.65 L192.26 280.48 L194.26 280.30 L196.27 280.13 L198.27 279.96 L200.27 279.79 L202.27 279.62 L204.28 279.46 L206.28 279.29 L208.28 279.13 L210.28 278.97 L212.29 278.81 L214.29 278.65 L216.29 278.49 L218.29 278.33 L220.30 278.18 L222.30 278.03 L224.30 277.88 L226.31 277.73 L228.31 277.58 L230.31 277.43 L232.31 277.29 L234.32 277.15 L236.32 277.00 L238.32 276.86 L240.32 276.73 L242.33 276.59 L244.33 276.45 L246.33 276.32 L248.33 276.19 L250.34 276.06 L252.34 275.93 L254.34 275.80 L256.34 275.67 L258.35 275.55 L260.35 275.43 L262.35 275.31 L264.35 275.19 L266.36 275.07 L268.36 274.95 L270.36 274.84 L272.36 274.72 L274.37 274.61 L276.37 274.50 L278.37 274.39 L280.37 274.29 L282.38 274.18 L284.38 274.08 L286.38 273.97 L288.38 273.87 L290.39 273.77 L292.39 273.67 L294.39 273.58 L296.39 273.48 L298.40 273.39 L300.40 273.30" stroke="#00f" stroke-width="1.5" fill="none" stroke-dasharray="14.5 3.3"/>
<path d="M146.35 289.75 L148.36 289.34 L150.37 288.93 L152.38 288.53 L154.38 288.14 L156.39 287.76 L158.40 287.39 L160.41 287.02 L162.42 286.66 L164.43 286.31 L166.43 285.97 L168.44 285.63 L170.45 285.30 L172.46 284.97 L174.47 284.65 L176.47 284.34 L178.48 284.04 L180.49 283.73 L182.50 283.44 L184.51 283.15 L186.52 282.87 L188.53 282.59 L190.53 282.32 L192.54 282.05 L194.55 281.79 L196.56 281.54 L198.57 281.28 L200.57 281.04 L202.58 280.80 L204.59 280.56 L206.60 280.33 L208.61 280.10 L210.62 279.87 L212.62 279.65 L214.63 279.44 L216.64 279.22 L218.65 279.02 L220.66 278.81 L222.67 278.61 L224.68 278.41 L226.68 278.22 L228.69 278.03 L230.70 277.85 L232.71 277.66 L234.72 277.48 L236.73 277.31 L238.73 277.13 L240.74 276.96 L242.75 276.79 L244.76 276.63 L246.77 276.47 L248.78 276.31 L250.78 276.15 L252.79 276.00 L254.80 275.85 L256.81 275.70 L258.82 275.56 L260.82 275.41 L262.83 275.27 L264.84 275.13 L266.85 275.00 L268.86 274.86 L270.87 274.73 L272.88 274.61 L274.88 274.48 L276.89 274.35 L278.90 274.23 L280.91 274.11 L282.92 273.99 L284.93 273.88 L286.93 273.77 L288.94 273.65 L290.95 273.55 L292.96 273.44 L294.97 273.33 L296.98 273.23 L298.98 273.13 L300.99 273.03 L303.00 272.93 L305.01 272.84 L307.02 272.75 L309.03 272.66 L311.03 272.57 L313.04 272.48 L315.05 272.40 L317.06 272.32 L319.07 272.24 L321.08 272.16 L323.08 272.09 L325.09 272.01 L327.10 271.94" stroke="#0f0" stroke-width="1.5" fill="none" stroke-dasharray="1.6 2.8 13.0 3.3"/>
<path d="M146.35 247.50V316.50M143.05 247.50h6.6M143.05 316.50h6.6M155.90 277.40V335.40M152.60 277.40h6.6M152.60 335.40h6.6M163.50 280.00V312.10M160.20 280.00h6.6M160.20 312.10h6.6M171.90 278.40V298.70M168.60 278.40h6.6M168.60 298.70h6.6M181.60 277.70V301.00M178.30 277.70h6.6M178.30 301.00h6.6M189.40 282.20V309.60M186.10 282.20h6.6M186.10 309.60h6.6M198.70 273.60V290.80M195.40 273.60h6.6M195.40 290.80h6.6M208.20 254.80V283.40M204.90 254.80h6.6M204.90 283.40h6.6M217.60 257.60V280.60M214.30 257.60h6.6M214.30 280.60h6.6M228.10 254.50V288.30M224.80 254.50h6.6M224.80 288.30h6.6M239.00 231.30V430.50M235.70 231.30h6.6M235.70 430.50h6.6" stroke="#000" stroke-width="1.0" fill="none"/>
<path d="M144.55 280.20h3.6v3.6h-3.6zM154.10 304.60h3.6v3.6h-3.6zM161.70 294.25h3.6v3.6h-3.6zM170.10 286.75h3.6v3.6h-3.6zM179.80 287.55h3.6v3.6h-3.6zM187.60 294.10h3.6v3.6h-3.6zM196.90 280.40h3.6v3.6h-3.6zM206.40 267.30h3.6v3.6h-3.6zM215.80 267.30h3.6v3.6h-3.6zM226.30 269.60h3.6v3.6h-3.6zM237.20 329.10h3.6v3.6h-3.6z" stroke="#000" stroke-width="1" fill="none"/>
</g>
<g clip-path="url(#c11)">
<path d="M327.63 265.81H531.56" stroke="#5a5a5a" stroke-width="1.7" stroke-dasharray="1.9 6.27" fill="none"/>
<path d="M350.35 291.50 L352.36 290.72 L354.37 289.95 L356.38 289.19 L358.38 288.46 L360.39 287.74 L362.40 287.04 L364.41 286.36 L366.42 285.69 L368.43 285.04 L370.43 284.40 L372.44 283.78 L374.45 283.18 L376.46 282.58 L378.47 282.01 L380.48 281.44 L382.48 280.89 L384.49 280.35 L386.50 279.83 L388.51 279.31 L390.52 278.81 L392.53 278.32 L394.53 277.84 L396.54 277.38 L398.55 276.92 L400.56 276.48 L402.57 276.04 L404.58 275.62 L406.58 275.20 L408.59 274.80 L410.60 274.40 L412.61 274.01 L414.62 273.63 L416.62 273.26 L418.63 272.90 L420.64 272.54 L422.65 272.20 L424.66 271.86 L426.67 271.53 L428.68 271.20 L430.68 270.89 L432.69 270.58 L434.70 270.27 L436.71 269.97 L438.72 269.68 L440.73 269.40 L442.73 269.12 L444.74 268.85 L446.75 268.58 L448.76 268.32 L450.77 268.06 L452.78 267.81 L454.78 267.56 L456.79 267.32 L458.80 267.08 L460.81 266.85 L462.82 266.63 L464.83 266.40 L466.83 266.19 L468.84 265.97 L470.85 265.76 L472.86 265.56 L474.87 265.36 L476.88 265.16 L478.88 264.97 L480.89 264.78 L482.90 264.60 L484.91 264.42 L486.92 264.24 L488.93 264.07 L490.93 263.90 L492.94 263.74 L494.95 263.57 L496.96 263.42 L498.97 263.27 L500.98 263.12 L502.98 262.97 L504.99 262.83 L507.00 262.69 L509.01 262.56 L511.02 262.43 L513.03 262.31 L515.03 262.19 L517.04 262.07 L519.05 261.96 L521.06 261.85 L523.07 261.75 L525.08 261.65 L527.08 261.56 L529.09 261.47 L531.10 261.39" stroke="#000" stroke-width="1.5" fill="none"/>
<path d="M359.60 292.44 L361.62 290.94 L363.64 289.56 L365.65 288.29 L367.67 287.12 L369.69 286.05 L371.71 285.06 L373.72 284.15 L375.74 283.31 L377.76 282.53 L379.78 281.82 L381.79 281.16 L383.81 280.54 L385.83 279.96 L387.85 279.43 L389.86 278.92 L391.88 278.45 L393.90 277.99 L395.92 277.56 L397.94 277.15 L399.95 276.75 L401.97 276.36 L403.99 275.99 L406.01 275.62 L408.02 275.25 L410.04 274.89 L412.06 274.53 L414.08 274.17 L416.09 273.81 L418.11 273.45 L420.13 273.08 L422.15 272.71 L424.16 272.34 L426.18 271.97 L428.20 271.59 L430.22 271.21 L432.24 270.82 L434.25 270.44 L436.27 270.05 L438.29 269.65 L440.31 269.26 L442.32 268.86 L444.34 268.46 L446.36 268.07 L448.38 267.67 L450.39 267.28 L452.41 266.88 L454.43 266.50 L456.45 266.11 L458.46 265.74 L460.48 265.36 L462.50 265.00 L464.52 264.64 L466.54 264.29 L468.55 263.96 L470.57 263.63 L472.59 263.31 L474.61 263.00 L476.62 262.71 L478.64 262.43 L480.66 262.16 L482.68 261.90 L484.69 261.66 L486.71 261.43 L488.73 261.21 L490.75 261.00 L492.76 260.80 L494.78 260.62 L496.80 260.44 L498.82 260.27 L500.84 260.11 L502.85 259.95 L504.87 259.80 L506.89 259.65 L508.91 259.50 L510.92 259.35 L512.94 259.19 L514.96 259.02 L516.98 258.84 L518.99 258.64 L521.01 258.42 L523.03 258.18 L525.05 257.92 L527.06 257.61 L529.08 257.27 L531.10 256.89" stroke="#f00" stroke-width="1.5" fill="none" stroke-dasharray="5.9 2.1"/>
<path d="M359.00 277.76 L361.02 277.71 L363.04 277.66 L365.06 277.61 L367.08 277.57 L369.10 277.52 L371.11 277.47 L373.13 277.42 L375.15 277.38 L377.17 277.33 L379.19 277.28 L381.21 277.24 L383.23 277.19 L385.25 277.15 L387.27 277.10 L389.29 277.05 L391.30 277.01 L393.32 276.96 L395.34 276.92 L397.36 276.87 L399.38 276.83 L401.40 276.78 L403.42 276.73 L405.44 276.69 L407.46 276.65 L409.48 276.60 L411.50 276.56 L413.51 276.51 L415.53 276.47 L417.55 276.42 L419.57 276.38 L421.59 276.34 L423.61 276.29 L425.63 276.25 L427.65 276.20 L429.67 276.16 L431.69 276.12 L433.70 276.07 L435.72 276.03 L437.74 275.99 L439.76 275.95 L441.78 275.90 L443.80 275.86 L445.82 275.82 L447.84 275.78 L449.86 275.74 L451.88 275.69 L453.90 275.65 L455.91 275.61 L457.93 275.57 L459.95 275.53 L461.97 275.49 L463.99 275.44 L466.01 275.40 L468.03 275.36 L470.05 275.32 L472.07 275.28 L474.09 275.24 L476.10 275.20 L478.12 275.16 L480.14 275.12 L482.16 275.08 L484.18 275.04 L486.20 275.00 L488.22 274.96 L490.24 274.92 L492.26 274.88 L494.28 274.85 L496.30 274.81 L498.31 274.77 L500.33 274.73 L502.35 274.69 L504.37 274.65 L506.39 274.61 L508.41 274.58 L510.43 274.54 L512.45 274.50 L514.47 274.46 L516.49 274.42 L518.50 274.39 L520.52 274.35 L522.54 274.31 L524.56 274.28 L526.58 274.24 L528.60 274.20" stroke="#0ff" stroke-width="1.5" fill="none" stroke-dasharray="1.6 3.35"/>
<path d="M348.20 277.32 L350.20 277.15 L352.21 276.97 L354.21 276.80 L356.21 276.63 L358.21 276.46 L360.22 276.29 L362.22 276.13 L364.22 275.96 L366.22 275.80 L368.23 275.64 L370.23 275.48 L372.23 275.32 L374.23 275.16 L376.24 275.00 L378.24 274.85 L380.24 274.69 L382.24 274.54 L384.25 274.39 L386.25 274.24 L388.25 274.09 L390.25 273.94 L392.26 273.79 L394.26 273.65 L396.26 273.51 L398.26 273.36 L400.27 273.22 L402.27 273.08 L404.27 272.95 L406.27 272.81 L408.28 272.67 L410.28 272.54 L412.28 272.41 L414.28 272.28 L416.29 272.15 L418.29 272.02 L420.29 271.89 L422.29 271.77 L424.30 271.64 L426.30 271.52 L428.30 271.40 L430.31 271.28 L432.31 271.16 L434.31 271.04 L436.31 270.92 L438.32 270.81 L440.32 270.70 L442.32 270.58 L444.32 270.47 L446.33 270.36 L448.33 270.25 L450.33 270.15 L452.33 270.04 L454.34 269.94 L456.34 269.84 L458.34 269.73 L460.34 269.63 L462.35 269.54 L464.35 269.44 L466.35 269.34 L468.35 269.25 L470.36 269.15 L472.36 269.06 L474.36 268.97 L476.36 268.88 L478.37 268.79 L480.37 268.71 L482.37 268.62 L484.37 268.54 L486.38 268.46 L488.38 268.38 L490.38 268.30 L492.38 268.22 L494.39 268.14 L496.39 268.06 L498.39 267.99 L500.39 267.92 L502.40 267.85 L504.40 267.78" stroke="#00f" stroke-width="1.5" fill="none" stroke-dasharray="14.5 3.3"/>
<path d="M350.35 274.88 L352.36 274.64 L354.37 274.41 L356.38 274.18 L358.38 273.95 L360.39 273.73 L362.40 273.51 L364.41 273.30 L366.42 273.09 L368.43 272.88 L370.43 272.68 L372.44 272.49 L374.45 272.29 L376.46 272.10 L378.47 271.92 L380.48 271.73 L382.48 271.56 L384.49 271.38 L386.50 271.21 L388.51 271.04 L390.52 270.87 L392.53 270.71 L394.53 270.55 L396.54 270.40 L398.55 270.24 L400.56 270.09 L402.57 269.94 L404.58 269.80 L406.58 269.66 L408.59 269.52 L410.60 269.38 L412.61 269.24 L414.62 269.11 L416.62 268.98 L418.63 268.85 L420.64 268.73 L422.65 268.60 L424.66 268.48 L426.67 268.36 L428.68 268.25 L430.68 268.13 L432.69 268.02 L434.70 267.91 L436.71 267.80 L438.72 267.70 L440.73 267.59 L442.73 267.49 L444.74 267.39 L446.75 267.29 L448.76 267.19 L450.77 267.10 L452.78 267.00 L454.78 266.91 L456.79 266.82 L458.80 266.74 L460.81 266.65 L462.82 266.56 L464.83 266.48 L466.83 266.40 L468.84 266.32 L470.85 266.24 L472.86 266.17 L474.87 266.09 L476.88 266.02 L478.88 265.95 L480.89 265.88 L482.90 265.81 L484.91 265.75 L486.92 265.68 L488.93 265.62 L490.93 265.56 L492.94 265.50 L494.95 265.44 L496.96 265.39 L498.97 265.33 L500.98 265.28 L502.98 265.23 L504.99 265.18 L507.00 265.13 L509.01 265.09 L511.02 265.05 L513.03 265.01 L515.03 264.97 L517.04 264.93 L519.05 264.90 L521.06 264.86 L523.07 264.83 L525.08 264.80 L527.08 264.78 L529.09 264.75 L531.10 264.73" stroke="#0f0" stroke-width="1.5" fill="none" stroke-dasharray="1.6 2.8 13.0 3.3"/>
<path d="M350.35 187.35V409.35M347.05 187.35h6.6M347.05 409.35h6.6M359.90 255.65V324.65M356.60 255.65h6.6M356.60 324.65h6.6M367.50 257.60V305.10M364.20 257.60h6.6M364.20 305.10h6.6M375.80 266.50V309.30M372.50 266.50h6.6M372.50 309.30h6.6M385.60 249.10V282.20M382.30 249.10h6.6M382.30 282.20h6.6M393.40 272.90V293.30M390.10 272.90h6.6M390.10 293.30h6.6M402.70 274.55V304.45M399.40 274.55h6.6M399.40 304.45h6.6M412.20 239.80V275.40M408.90 239.80h6.6M408.90 275.40h6.6M421.60 255.50V273.10M418.30 255.50h6.6M418.30 273.10h6.6M432.10 261.95V281.45M428.80 261.95h6.6M428.80 281.45h6.6M443.00 239.50V275.70M439.70 239.50h6.6M439.70 275.70h6.6" stroke="#000" stroke-width="1.0" fill="none"/>
<path d="M348.55 296.55h3.6v3.6h-3.6zM358.10 288.35h3.6v3.6h-3.6zM365.70 279.55h3.6v3.6h-3.6zM374.00 286.10h3.6v3.6h-3.6zM383.80 263.85h3.6v3.6h-3.6zM391.60 281.30h3.6v3.6h-3.6zM400.90 287.70h3.6v3.6h-3.6zM410.40 255.80h3.6v3.6h-3.6zM419.80 262.50h3.6v3.6h-3.6zM430.30 269.90h3.6v3.6h-3.6zM441.20 255.80h3.6v3.6h-3.6z" stroke="#000" stroke-width="1" fill="none"/>
</g>
<g clip-path="url(#c21)">
<path d="M531.56 265.81H735.49" stroke="#5a5a5a" stroke-width="1.7" stroke-dasharray="1.9 6.27" fill="none"/>
<path d="M563.60 280.02 L565.62 279.28 L567.64 278.57 L569.65 277.88 L571.67 277.22 L573.69 276.58 L575.71 275.97 L577.72 275.37 L579.74 274.80 L581.76 274.25 L583.78 273.72 L585.79 273.21 L587.81 272.71 L589.83 272.24 L591.85 271.78 L593.86 271.34 L595.88 270.92 L597.90 270.51 L599.92 270.12 L601.94 269.74 L603.95 269.37 L605.97 269.02 L607.99 268.68 L610.01 268.35 L612.02 268.04 L614.04 267.73 L616.06 267.44 L618.08 267.16 L620.09 266.88 L622.11 266.62 L624.13 266.36 L626.15 266.12 L628.16 265.88 L630.18 265.65 L632.20 265.42 L634.22 265.20 L636.24 264.99 L638.25 264.79 L640.27 264.59 L642.29 264.39 L644.31 264.20 L646.32 264.02 L648.34 263.84 L650.36 263.66 L652.38 263.49 L654.39 263.32 L656.41 263.16 L658.43 262.99 L660.45 262.84 L662.46 262.68 L664.48 262.53 L666.50 262.37 L668.52 262.23 L670.54 262.08 L672.55 261.93 L674.57 261.79 L676.59 261.65 L678.61 261.51 L680.62 261.37 L682.64 261.24 L684.66 261.10 L686.68 260.97 L688.69 260.84 L690.71 260.70 L692.73 260.57 L694.75 260.45 L696.76 260.32 L698.78 260.19 L700.80 260.07 L702.82 259.95 L704.84 259.83 L706.85 259.71 L708.87 259.59 L710.89 259.47 L712.91 259.36 L714.92 259.25 L716.94 259.14 L718.96 259.03 L720.98 258.93 L722.99 258.82 L725.01 258.72 L727.03 258.63 L729.05 258.54 L731.06 258.45 L733.08 258.36 L735.10 258.28" stroke="#000" stroke-width="1.5" fill="none"/>
<path d="M563.00 282.35 L565.00 281.37 L567.00 280.43 L569.00 279.54 L571.00 278.69 L573.01 277.88 L575.01 277.10 L577.01 276.37 L579.01 275.66 L581.01 274.99 L583.01 274.34 L585.01 273.73 L587.01 273.14 L589.02 272.57 L591.02 272.03 L593.02 271.51 L595.02 271.01 L597.02 270.53 L599.02 270.07 L601.02 269.62 L603.02 269.19 L605.02 268.77 L607.03 268.37 L609.03 267.98 L611.03 267.60 L613.03 267.23 L615.03 266.87 L617.03 266.52 L619.03 266.17 L621.03 265.84 L623.03 265.51 L625.04 265.19 L627.04 264.87 L629.04 264.56 L631.04 264.25 L633.04 263.95 L635.04 263.65 L637.04 263.36 L639.04 263.06 L641.05 262.78 L643.05 262.49 L645.05 262.21 L647.05 261.93 L649.05 261.65 L651.05 261.38 L653.05 261.11 L655.05 260.84 L657.05 260.57 L659.06 260.30 L661.06 260.04 L663.06 259.78 L665.06 259.52 L667.06 259.26 L669.06 259.00 L671.06 258.75 L673.06 258.50 L675.07 258.26 L677.07 258.01 L679.07 257.77 L681.07 257.53 L683.07 257.30 L685.07 257.07 L687.07 256.84 L689.07 256.62 L691.07 256.40 L693.08 256.18 L695.08 255.97 L697.08 255.77 L699.08 255.56 L701.08 255.37 L703.08 255.17 L705.08 254.99 L707.08 254.80 L709.08 254.62 L711.09 254.45 L713.09 254.29 L715.09 254.12 L717.09 253.97 L719.09 253.82 L721.09 253.67 L723.09 253.53 L725.09 253.40 L727.10 253.27 L729.10 253.14 L731.10 253.03 L733.10 252.91 L735.10 252.80" stroke="#f00" stroke-width="1.5" fill="none" stroke-dasharray="5.9 2.1"/>
<path d="M563.00 274.20 L565.02 274.17 L567.04 274.13 L569.06 274.10 L571.08 274.06 L573.10 274.02 L575.11 273.99 L577.13 273.95 L579.15 273.92 L581.17 273.89 L583.19 273.85 L585.21 273.82 L587.23 273.78 L589.25 273.75 L591.27 273.72 L593.29 273.68 L595.30 273.65 L597.32 273.62 L599.34 273.58 L601.36 273.55 L603.38 273.52 L605.40 273.49 L607.42 273.46 L609.44 273.42 L611.46 273.39 L613.48 273.36 L615.50 273.33 L617.51 273.30 L619.53 273.27 L621.55 273.24 L623.57 273.21 L625.59 273.18 L627.61 273.15 L629.63 273.12 L631.65 273.09 L633.67 273.06 L635.69 273.03 L637.70 273.00 L639.72 272.98 L641.74 272.95 L643.76 272.92 L645.78 272.89 L647.80 272.86 L649.82 272.84 L651.84 272.81 L653.86 272.78 L655.88 272.76 L657.90 272.73 L659.91 272.70 L661.93 272.68 L663.95 272.65 L665.97 272.62 L667.99 272.60 L670.01 272.57 L672.03 272.55 L674.05 272.52 L676.07 272.50 L678.09 272.47 L680.10 272.45 L682.12 272.43 L684.14 272.40 L686.16 272.38 L688.18 272.36 L690.20 272.33 L692.22 272.31 L694.24 272.29 L696.26 272.26 L698.28 272.24 L700.30 272.22 L702.31 272.20 L704.33 272.18 L706.35 272.15 L708.37 272.13 L710.39 272.11 L712.41 272.09 L714.43 272.07 L716.45 272.05 L718.47 272.03 L720.49 272.01 L722.50 271.99 L724.52 271.97 L726.54 271.95 L728.56 271.93 L730.58 271.91 L732.60 271.89" stroke="#0ff" stroke-width="1.5" fill="none" stroke-dasharray="1.6 3.35"/>
<path d="M552.20 271.09 L554.20 270.97 L556.21 270.84 L558.21 270.71 L560.21 270.59 L562.21 270.46 L564.22 270.34 L566.22 270.22 L568.22 270.10 L570.22 269.98 L572.23 269.86 L574.23 269.74 L576.23 269.62 L578.23 269.50 L580.24 269.38 L582.24 269.27 L584.24 269.15 L586.24 269.04 L588.25 268.92 L590.25 268.81 L592.25 268.70 L594.25 268.59 L596.26 268.48 L598.26 268.37 L600.26 268.26 L602.26 268.15 L604.27 268.04 L606.27 267.94 L608.27 267.83 L610.27 267.73 L612.28 267.62 L614.28 267.52 L616.28 267.42 L618.28 267.32 L620.29 267.22 L622.29 267.12 L624.29 267.02 L626.29 266.92 L628.30 266.82 L630.30 266.73 L632.30 266.63 L634.31 266.53 L636.31 266.44 L638.31 266.35 L640.31 266.25 L642.32 266.16 L644.32 266.07 L646.32 265.98 L648.32 265.89 L650.33 265.80 L652.33 265.72 L654.33 265.63 L656.33 265.54 L658.34 265.46 L660.34 265.37 L662.34 265.29 L664.34 265.21 L666.35 265.13 L668.35 265.04 L670.35 264.96 L672.35 264.88 L674.36 264.81 L676.36 264.73 L678.36 264.65 L680.36 264.57 L682.37 264.50 L684.37 264.42 L686.37 264.35 L688.37 264.28 L690.38 264.20 L692.38 264.13 L694.38 264.06 L696.38 263.99 L698.39 263.92 L700.39 263.86 L702.39 263.79 L704.39 263.72 L706.40 263.66 L708.40 263.59" stroke="#00f" stroke-width="1.5" fill="none" stroke-dasharray="14.5 3.3"/>
<path d="M554.35 267.19 L556.36 267.01 L558.37 266.83 L560.38 266.65 L562.38 266.49 L564.39 266.32 L566.40 266.17 L568.41 266.01 L570.42 265.87 L572.43 265.72 L574.43 265.58 L576.44 265.45 L578.45 265.31 L580.46 265.19 L582.47 265.06 L584.48 264.94 L586.48 264.82 L588.49 264.71 L590.50 264.60 L592.51 264.49 L594.52 264.39 L596.52 264.29 L598.53 264.19 L600.54 264.09 L602.55 264.00 L604.56 263.91 L606.57 263.82 L608.58 263.73 L610.58 263.65 L612.59 263.57 L614.60 263.49 L616.61 263.41 L618.62 263.33 L620.62 263.26 L622.63 263.19 L624.64 263.12 L626.65 263.05 L628.66 262.98 L630.67 262.91 L632.68 262.85 L634.68 262.78 L636.69 262.72 L638.70 262.66 L640.71 262.60 L642.72 262.54 L644.73 262.48 L646.73 262.42 L648.74 262.36 L650.75 262.31 L652.76 262.25 L654.77 262.20 L656.77 262.14 L658.78 262.09 L660.79 262.04 L662.80 261.99 L664.81 261.94 L666.82 261.88 L668.83 261.83 L670.83 261.79 L672.84 261.74 L674.85 261.69 L676.86 261.64 L678.87 261.59 L680.88 261.55 L682.88 261.50 L684.89 261.45 L686.90 261.41 L688.91 261.36 L690.92 261.32 L692.93 261.27 L694.93 261.23 L696.94 261.19 L698.95 261.15 L700.96 261.10 L702.97 261.06 L704.98 261.02 L706.98 260.98 L708.99 260.94 L711.00 260.91 L713.01 260.87 L715.02 260.83 L717.03 260.79 L719.03 260.76 L721.04 260.73 L723.05 260.69 L725.06 260.66 L727.07 260.63 L729.08 260.60 L731.08 260.57 L733.09 260.54 L735.10 260.52" stroke="#0f0" stroke-width="1.5" fill="none" stroke-dasharray="1.6 2.8 13.0 3.3"/>
<path d="M563.60 249.40V331.60M560.30 249.40h6.6M560.30 331.60h6.6M571.50 282.10V363.50M568.20 282.10h6.6M568.20 363.50h6.6M579.55 235.40V266.30M576.25 235.40h6.6M576.25 266.30h6.6M589.60 227.30V279.90M586.30 227.30h6.6M586.30 279.90h6.6M597.40 247.50V274.20M594.10 247.50h6.6M594.10 274.20h6.6M606.70 249.40V288.80M603.40 249.40h6.6M603.40 288.80h6.6M616.20 240.70V268.30M612.90 240.70h6.6M612.90 268.30h6.6M625.60 250.60V268.00M622.30 250.60h6.6M622.30 268.00h6.6M636.10 250.50V267.90M632.80 250.50h6.6M632.80 267.90h6.6M647.00 242.40V264.60M643.70 242.40h6.6M643.70 264.60h6.6M658.35 252.85V311.85M655.05 252.85h6.6M655.05 311.85h6.6" stroke="#000" stroke-width="1.0" fill="none"/>
<path d="M561.80 288.70h3.6v3.6h-3.6zM569.70 321.00h3.6v3.6h-3.6zM577.75 249.05h3.6v3.6h-3.6zM587.80 251.80h3.6v3.6h-3.6zM595.60 259.05h3.6v3.6h-3.6zM604.90 267.30h3.6v3.6h-3.6zM614.40 252.70h3.6v3.6h-3.6zM623.80 257.50h3.6v3.6h-3.6zM634.30 257.40h3.6v3.6h-3.6zM645.20 251.70h3.6v3.6h-3.6zM656.55 280.55h3.6v3.6h-3.6z" stroke="#000" stroke-width="1" fill="none"/>
</g>
<path d="M123.70 21.05H327.63V225.02H123.70ZM123.70 204.62h6.0M327.63 204.62h-6.0M123.70 184.23h12.0M327.63 184.23h-12.0M123.70 163.83h6.0M327.63 163.83h-6.0M123.70 143.43h12.0M327.63 143.43h-12.0M123.70 123.03h6.0M327.63 123.03h-6.0M123.70 102.64h12.0M327.63 102.64h-12.0M123.70 82.24h6.0M327.63 82.24h-6.0M123.70 61.84h12.0M327.63 61.84h-12.0M123.70 41.45h6.0M327.63 41.45h-6.0M150.38 21.05v6.0M150.38 225.02v-6.0M165.99 21.05v6.0M165.99 225.02v-6.0M177.06 21.05v6.0M177.06 225.02v-6.0M185.65 21.05v6.0M185.65 225.02v-6.0M192.66 21.05v6.0M192.66 225.02v-6.0M198.60 21.05v6.0M198.60 225.02v-6.0M203.74 21.05v6.0M203.74 225.02v-6.0M208.27 21.05v6.0M208.27 225.02v-6.0M212.33 21.05v12.0M212.33 225.02v-12.0M239.00 21.05v6.0M239.00 225.02v-6.0M254.61 21.05v6.0M254.61 225.02v-6.0M265.68 21.05v6.0M265.68 225.02v-6.0M274.27 21.05v6.0M274.27 225.02v-6.0M281.29 21.05v6.0M281.29 225.02v-6.0M287.22 21.05v6.0M287.22 225.02v-6.0M292.36 21.05v6.0M292.36 225.02v-6.0M296.90 21.05v6.0M296.90 225.02v-6.0M300.95 21.05v12.0M300.95 225.02v-12.0M327.63 21.05v6.0M327.63 225.02v-6.0M327.63 21.05H531.56V225.02H327.63ZM327.63 204.62h6.0M531.56 204.62h-6.0M327.63 184.23h12.0M531.56 184.23h-12.0M327.63 163.83h6.0M531.56 163.83h-6.0M327.63 143.43h12.0M531.56 143.43h-12.0M327.63 123.03h6.0M531.56 123.03h-6.0M327.63 102.64h12.0M531.56 102.64h-12.0M327.63 82.24h6.0M531.56 82.24h-6.0M327.63 61.84h12.0M531.56 61.84h-12.0M327.63 41.45h6.0M531.56 41.45h-6.0M354.31 21.05v6.0M354.31 225.02v-6.0M369.92 21.05v6.0M369.92 225.02v-6.0M380.99 21.05v6.0M380.99 225.02v-6.0M389.58 21.05v6.0M389.58 225.02v-6.0M396.59 21.05v6.0M396.59 225.02v-6.0M402.53 21.05v6.0M402.53 225.02v-6.0M407.67 21.05v6.0M407.67 225.02v-6.0M412.20 21.05v6.0M412.20 225.02v-6.0M416.26 21.05v12.0M416.26 225.02v-12.0M442.93 21.05v6.0M442.93 225.02v-6.0M458.54 21.05v6.0M458.54 225.02v-6.0M469.61 21.05v6.0M469.61 225.02v-6.0M478.20 21.05v6.0M478.20 225.02v-6.0M485.22 21.05v6.0M485.22 225.02v-6.0M491.15 21.05v6.0M491.15 225.02v-6.0M496.29 21.05v6.0M496.29 225.02v-6.0M500.83 21.05v6.0M500.83 225.02v-6.0M504.88 21.05v12.0M504.88 225.02v-12.0M531.56 21.05v6.0M531.56 225.02v-6.0M531.56 21.05H735.49V225.02H531.56ZM531.56 204.62h6.0M735.49 204.62h-6.0M531.56 184.23h12.0M735.49 184.23h-12.0M531.56 163.83h6.0M735.49 163.83h-6.0M531.56 143.43h12.0M735.49 143.43h-12.0M531.56 123.03h6.0M735.49 123.03h-6.0M531.56 102.64h12.0M735.49 102.64h-12.0M531.56 82.24h6.0M735.49 82.24h-6.0M531.56 61.84h12.0M735.49 61.84h-12.0M531.56 41.45h6.0M735.49 41.45h-6.0M558.24 21.05v6.0M558.24 225.02v-6.0M573.85 21.05v6.0M573.85 225.02v-6.0M584.92 21.05v6.0M584.92 225.02v-6.0M593.51 21.05v6.0M593.51 225.02v-6.0M600.52 21.05v6.0M600.52 225.02v-6.0M606.46 21.05v6.0M606.46 225.02v-6.0M611.60 21.05v6.0M611.60 225.02v-6.0M616.13 21.05v6.0M616.13 225.02v-6.0M620.19 21.05v12.0M620.19 225.02v-12.0M646.86 21.05v6.0M646.86 225.02v-6.0M662.47 21.05v6.0M662.47 225.02v-6.0M673.54 21.05v6.0M673.54 225.02v-6.0M682.13 21.05v6.0M682.13 225.02v-6.0M689.15 21.05v6.0M689.15 225.02v-6.0M695.08 21.05v6.0M695.08 225.02v-6.0M700.22 21.05v6.0M700.22 225.02v-6.0M704.76 21.05v6.0M704.76 225.02v-6.0M708.81 21.05v12.0M708.81 225.02v-12.0M735.49 21.05v6.0M735.49 225.02v-6.0M123.70 225.02H327.63V428.99H123.70ZM123.70 408.59h6.0M327.63 408.59h-6.0M123.70 388.20h12.0M327.63 388.20h-12.0M123.70 367.80h6.0M327.63 367.80h-6.0M123.70 347.40h12.0M327.63 347.40h-12.0M123.70 327.00h6.0M327.63 327.00h-6.0M123.70 306.61h12.0M327.63 306.61h-12.0M123.70 286.21h6.0M327.63 286.21h-6.0M123.70 265.81h12.0M327.63 265.81h-12.0M123.70 245.42h6.0M327.63 245.42h-6.0M150.38 225.02v6.0M150.38 428.99v-6.0M165.99 225.02v6.0M165.99 428.99v-6.0M177.06 225.02v6.0M177.06 428.99v-6.0M185.65 225.02v6.0M185.65 428.99v-6.0M192.66 225.02v6.0M192.66 428.99v-6.0M198.60 225.02v6.0M198.60 428.99v-6.0M203.74 225.02v6.0M203.74 428.99v-6.0M208.27 225.02v6.0M208.27 428.99v-6.0M212.33 225.02v12.0M212.33 428.99v-12.0M239.00 225.02v6.0M239.00 428.99v-6.0M254.61 225.02v6.0M254.61 428.99v-6.0M265.68 225.02v6.0M265.68 428.99v-6.0M274.27 225.02v6.0M274.27 428.99v-6.0M281.29 225.02v6.0M281.29 428.99v-6.0M287.22 225.02v6.0M287.22 428.99v-6.0M292.36 225.02v6.0M292.36 428.99v-6.0M296.90 225.02v6.0M296.90 428.99v-6.0M300.95 225.02v12.0M300.95 428.99v-12.0M327.63 225.02v6.0M327.63 428.99v-6.0M327.63 225.02H531.56V428.99H327.63ZM327.63 408.59h6.0M531.56 408.59h-6.0M327.63 388.20h12.0M531.56 388.20h-12.0M327.63 367.80h6.0M531.56 367.80h-6.0M327.63 347.40h12.0M531.56 347.40h-12.0M327.63 327.00h6.0M531.56 327.00h-6.0M327.63 306.61h12.0M531.56 306.61h-12.0M327.63 286.21h6.0M531.56 286.21h-6.0M327.63 265.81h12.0M531.56 265.81h-12.0M327.63 245.42h6.0M531.56 245.42h-6.0M354.31 225.02v6.0M354.31 428.99v-6.0M369.92 225.02v6.0M369.92 428.99v-6.0M380.99 225.02v6.0M380.99 428.99v-6.0M389.58 225.02v6.0M389.58 428.99v-6.0M396.59 225.02v6.0M396.59 428.99v-6.0M402.53 225.02v6.0M402.53 428.99v-6.0M407.67 225.02v6.0M407.67 428.99v-6.0M412.20 225.02v6.0M412.20 428.99v-6.0M416.26 225.02v12.0M416.26 428.99v-12.0M442.93 225.02v6.0M442.93 428.99v-6.0M458.54 225.02v6.0M458.54 428.99v-6.0M469.61 225.02v6.0M469.61 428.99v-6.0M478.20 225.02v6.0M478.20 428.99v-6.0M485.22 225.02v6.0M485.22 428.99v-6.0M491.15 225.02v6.0M491.15 428.99v-6.0M496.29 225.02v6.0M496.29 428.99v-6.0M500.83 225.02v6.0M500.83 428.99v-6.0M504.88 225.02v12.0M504.88 428.99v-12.0M531.56 225.02v6.0M531.56 428.99v-6.0M531.56 225.02H735.49V428.99H531.56ZM531.56 408.59h6.0M735.49 408.59h-6.0M531.56 388.20h12.0M735.49 388.20h-12.0M531.56 367.80h6.0M735.49 367.80h-6.0M531.56 347.40h12.0M735.49 347.40h-12.0M531.56 327.00h6.0M735.49 327.00h-6.0M531.56 306.61h12.0M735.49 306.61h-12.0M531.56 286.21h6.0M735.49 286.21h-6.0M531.56 265.81h12.0M735.49 265.81h-12.0M531.56 245.42h6.0M735.49 245.42h-6.0M558.24 225.02v6.0M558.24 428.99v-6.0M573.85 225.02v6.0M573.85 428.99v-6.0M584.92 225.02v6.0M584.92 428.99v-6.0M593.51 225.02v6.0M593.51 428.99v-6.0M600.52 225.02v6.0M600.52 428.99v-6.0M606.46 225.02v6.0M606.46 428.99v-6.0M611.60 225.02v6.0M611.60 428.99v-6.0M616.13 225.02v6.0M616.13 428.99v-6.0M620.19 225.02v12.0M620.19 428.99v-12.0M646.86 225.02v6.0M646.86 428.99v-6.0M662.47 225.02v6.0M662.47 428.99v-6.0M673.54 225.02v6.0M673.54 428.99v-6.0M682.13 225.02v6.0M682.13 428.99v-6.0M689.15 225.02v6.0M689.15 428.99v-6.0M695.08 225.02v6.0M695.08 428.99v-6.0M700.22 225.02v6.0M700.22 428.99v-6.0M704.76 225.02v6.0M704.76 428.99v-6.0M708.81 225.02v12.0M708.81 428.99v-12.0M735.49 225.02v6.0M735.49 428.99v-6.0" stroke="#000" stroke-width="1.0" fill="none" stroke-linecap="butt"/>
<g style="filter:grayscale(1)">
<text x="115.2" y="28.20" font-size="18.4" text-anchor="end">1.05</text>
<text x="743.6" y="28.20" font-size="18.4" text-anchor="start">1.05</text>
<text x="115.2" y="68.99" font-size="18.4" text-anchor="end">1.0</text>
<text x="743.6" y="68.99" font-size="18.4" text-anchor="start">1.0</text>
<text x="115.2" y="109.79" font-size="18.4" text-anchor="end">0.95</text>
<text x="743.6" y="109.79" font-size="18.4" text-anchor="start">0.95</text>
<text x="115.2" y="150.58" font-size="18.4" text-anchor="end">0.9</text>
<text x="743.6" y="150.58" font-size="18.4" text-anchor="start">0.9</text>
<text x="115.2" y="191.38" font-size="18.4" text-anchor="end">0.85</text>
<text x="743.6" y="191.38" font-size="18.4" text-anchor="start">0.85</text>
<text x="115.2" y="232.17" font-size="18.4" text-anchor="end">1.05</text>
<text x="743.6" y="232.17" font-size="18.4" text-anchor="start">1.05</text>
<text x="115.2" y="272.96" font-size="18.4" text-anchor="end">1.0</text>
<text x="743.6" y="272.96" font-size="18.4" text-anchor="start">1.0</text>
<text x="115.2" y="313.76" font-size="18.4" text-anchor="end">0.95</text>
<text x="743.6" y="313.76" font-size="18.4" text-anchor="start">0.95</text>
<text x="115.2" y="354.55" font-size="18.4" text-anchor="end">0.9</text>
<text x="743.6" y="354.55" font-size="18.4" text-anchor="start">0.9</text>
<text x="115.2" y="395.35" font-size="18.4" text-anchor="end">0.85</text>
<text x="743.6" y="395.35" font-size="18.4" text-anchor="start">0.85</text>
<text x="115.2" y="436.14" font-size="18.4" text-anchor="end">0.8</text>
<text x="743.6" y="436.14" font-size="18.4" text-anchor="start">0.8</text>
<text x="123.80" y="451.1" font-size="18.4" text-anchor="middle">1</text>
<text x="212.43" y="451.1" font-size="18.4" text-anchor="middle">10</text>
<text x="301.05" y="451.1" font-size="18.4" text-anchor="middle">100</text>
<text x="327.73" y="451.1" font-size="18.4" text-anchor="middle">1</text>
<text x="416.36" y="451.1" font-size="18.4" text-anchor="middle">10</text>
<text x="504.98" y="451.1" font-size="18.4" text-anchor="middle">100</text>
<text x="531.66" y="451.1" font-size="18.4" text-anchor="middle">1</text>
<text x="620.29" y="451.1" font-size="18.4" text-anchor="middle">10</text>
<text x="708.91" y="451.1" font-size="18.4" text-anchor="middle">100</text>
<use href="#mx" transform="translate(166.40,205.30)"/>
<text y="205.30" font-size="17.9"><tspan x="176.50" dy="0.8">=</tspan><tspan x="187.40" dy="-0.8">0.0125</tspan></text>
<use href="#mx" transform="translate(370.33,205.30)"/>
<text y="205.30" font-size="17.9"><tspan x="380.43" dy="0.8">=</tspan><tspan x="391.33" dy="-0.8">0.0175</tspan></text>
<use href="#mx" transform="translate(574.26,205.30)"/>
<text y="205.30" font-size="17.9"><tspan x="584.36" dy="0.8">=</tspan><tspan x="595.26" dy="-0.8">0.025</tspan></text>
<use href="#mx" transform="translate(166.40,409.05)"/>
<text y="409.05" font-size="17.9"><tspan x="176.50" dy="0.8">=</tspan><tspan x="187.40" dy="-0.8">0.035</tspan></text>
<use href="#mx" transform="translate(370.33,409.05)"/>
<text y="409.05" font-size="17.9"><tspan x="380.43" dy="0.8">=</tspan><tspan x="391.33" dy="-0.8">0.045</tspan></text>
<use href="#mx" transform="translate(574.26,409.05)"/>
<text y="409.05" font-size="17.9"><tspan x="584.36" dy="0.8">=</tspan><tspan x="595.26" dy="-0.8">0.055</tspan></text>
<text x="430.3" y="490.1" font-size="25" class="i">Q</text>
<text x="449.5" y="476.2" font-size="16.3">2</text>
<g transform="translate(63.0,326) rotate(-90)">
<text x="0.65" y="0" font-size="25" class="i">F</text>
<text x="14.75" y="3.6" font-size="17.3">2</text>
<text x="22.55" y="-14.5" font-size="17.3">S</text>
<text x="31.1" y="-14.5" font-size="17.3">n</text>
<text x="40.9" y="0" font-size="25">(</text>
<use href="#mx" transform="translate(49.20,0) scale(1.25)"/>
<text x="63.8" y="0" font-size="25">,</text>
<text x="69.75" y="0" font-size="25" class="i">Q</text>
<text x="88.7" y="-14.5" font-size="17.3">2</text>
<text x="97.05" y="0" font-size="25">)</text>
<text x="105.5" y="0" font-size="25">/</text>
<text x="113.95" y="0" font-size="25" class="i">F</text>
<text x="128.4" y="3.6" font-size="17.3">2</text>
<text x="136.95" y="-14.5" font-size="17.3">C</text>
<text x="148.05" y="0" font-size="25">(</text>
<use href="#mx" transform="translate(156.70,0) scale(1.25)"/>
<text x="170.65" y="0" font-size="25">,</text>
<text x="176.8" y="0" font-size="25" class="i">Q</text>
<text x="195.7" y="-14.5" font-size="17.3">2</text>
<text x="204.5" y="0" font-size="25">)</text>
</g>
<text x="677.6" y="319.7" font-size="16.3">This</text>
<text x="677.6" y="339.2" font-size="16.3">work</text>
<text x="677.6" y="358.7" font-size="16.3">EKS98</text>
<text x="677.6" y="378.2" font-size="16.3">HKM</text>
<text x="677.6" y="397.7" font-size="16.3">HKN</text>
<text x="677.6" y="417.2" font-size="16.3">nDS</text>
</g>
<path d="M638.2 333.30H667.8" stroke="#000" stroke-width="1.5" fill="none"/>
<path d="M638.2 352.80H667.8" stroke="#f00" stroke-width="1.5" fill="none" stroke-dasharray="5.5 2.4"/>
<path d="M638.2 372.30H667.8" stroke="#0ff" stroke-width="1.5" fill="none" stroke-dasharray="1.5 2.73"/>
<path d="M638.2 391.80H667.8" stroke="#00f" stroke-width="1.5" fill="none" stroke-dasharray="14.6 3.4"/>
<path d="M638.2 411.30H667.8" stroke="#0f0" stroke-width="1.5" fill="none" stroke-dasharray="1.6 2.8 13.3 3.5"/>
</svg></body></html>
